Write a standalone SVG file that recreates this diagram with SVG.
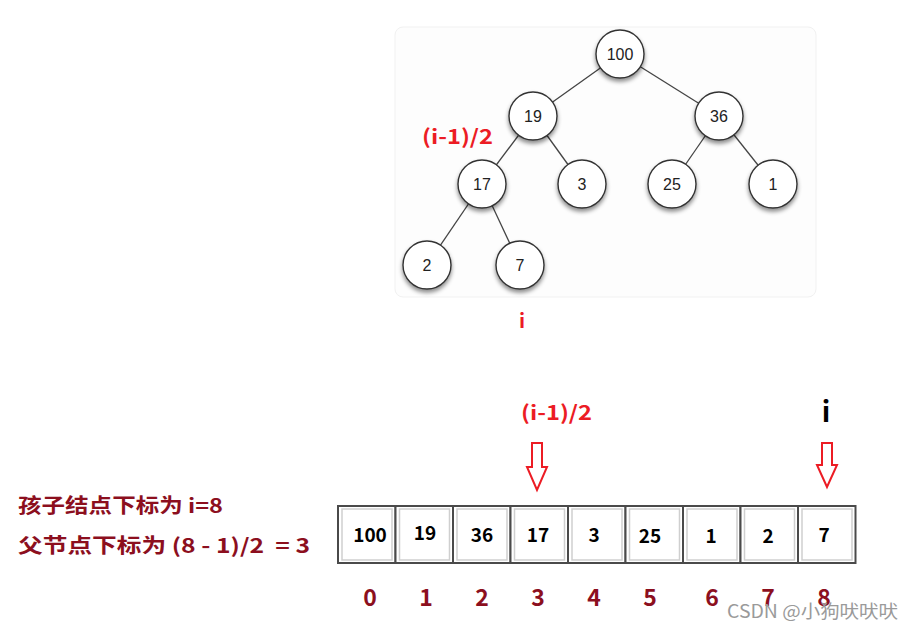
<svg xmlns="http://www.w3.org/2000/svg" width="914" height="629" viewBox="0 0 914 629">
<defs>
<filter id="sh" x="-40%" y="-40%" width="180%" height="190%">
<feDropShadow dx="0" dy="3" stdDeviation="2.2" flood-color="#000" flood-opacity="0.45"/>
</filter>
</defs>
<style>
.node circle{fill:#fff;stroke:#333;stroke-width:1.4;filter:url(#sh)}
.node text{font-family:"Liberation Sans",Arial,sans-serif;font-size:16px;fill:#222;text-anchor:middle}
.edge{stroke:#444;stroke-width:1.3}
.cell{fill:#fff;stroke:#4a4a4a;stroke-width:2}
.inset{fill:none;stroke:#cfcfcf;stroke-width:1.5}
.val{font-family:"Noto Sans CJK SC","Noto Sans",sans-serif;font-weight:bold;font-size:19px;fill:#000;text-anchor:middle}
.idx{font-family:"Noto Sans CJK SC","Noto Sans",sans-serif;font-weight:bold;font-size:23px;fill:#8c0f1e;text-anchor:middle}
.red{font-family:"Noto Sans CJK SC","Noto Sans",sans-serif;font-weight:bold;font-size:20px;fill:#ec1c24}
.note{font-family:"Noto Sans CJK SC","Noto Sans",sans-serif;font-weight:bold;font-size:20px;fill:#8c0f1e;white-space:pre}
.arrow{fill:#fff;stroke:#ec1c24;stroke-width:2;stroke-linejoin:miter}
</style>
<rect x="395" y="27" width="421" height="270" rx="8" fill="#fdfdfd" stroke="#f1f1f1"/>
<g id="connectors">
<line class="edge" x1="620" y1="54" x2="533" y2="116"/>
<line class="edge" x1="620" y1="54" x2="719" y2="116"/>
<line class="edge" x1="533" y1="116" x2="482" y2="184"/>
<line class="edge" x1="533" y1="116" x2="582" y2="184"/>
<line class="edge" x1="719" y1="116" x2="672" y2="184"/>
<line class="edge" x1="719" y1="116" x2="773" y2="184"/>
<line class="edge" x1="482" y1="184" x2="427" y2="265"/>
<line class="edge" x1="482" y1="184" x2="520" y2="265"/>
</g>
<g id="n100" class="node"><circle cx="620" cy="54" r="24"/><text x="620" y="60">100</text></g>
<g id="n19" class="node"><circle cx="533" cy="116" r="24"/><text x="533" y="122">19</text></g>
<g id="n36" class="node"><circle cx="719" cy="116" r="24"/><text x="719" y="122">36</text></g>
<g id="n17" class="node"><circle cx="482" cy="184" r="24"/><text x="482" y="190">17</text></g>
<g id="n3" class="node"><circle cx="582" cy="184" r="24"/><text x="582" y="190">3</text></g>
<g id="n25" class="node"><circle cx="672" cy="184" r="24"/><text x="672" y="190">25</text></g>
<g id="n1" class="node"><circle cx="773" cy="184" r="24"/><text x="773" y="190">1</text></g>
<g id="n2" class="node"><circle cx="427" cy="265" r="24"/><text x="427" y="271">2</text></g>
<g id="n7" class="node"><circle cx="520" cy="265" r="24"/><text x="520" y="271">7</text></g>
<text class="red" x="422" y="144" textLength="71" lengthAdjust="spacingAndGlyphs">(i-1)/2</text>
<text class="red" x="522" y="328" text-anchor="middle">i</text>
<text class="red" x="521" y="420" textLength="71" lengthAdjust="spacingAndGlyphs">(i-1)/2</text>
<text x="826" y="422" text-anchor="middle" font-family="Noto Sans CJK SC,Noto Sans,sans-serif" font-weight="bold" font-size="28" fill="#000">i</text>
<g id="arrow-parent"><polygon class="arrow" points="532,443 542,443 542,467 547,467 537,490 527,467 532,467"/></g>
<g id="arrow-child"><polygon class="arrow" points="822,443 832,443 832,465 837,465 827,487 817,465 822,465"/></g>
<g id="array">
<rect class="cell" x="338" y="506" width="57.5" height="57"/><rect class="inset" x="342" y="509" width="50" height="51"/>
<rect class="cell" x="395.5" y="506" width="57.5" height="57"/><rect class="inset" x="399.5" y="509" width="50" height="51"/>
<rect class="cell" x="453" y="506" width="57.5" height="57"/><rect class="inset" x="457" y="509" width="50" height="51"/>
<rect class="cell" x="510.5" y="506" width="57.5" height="57"/><rect class="inset" x="514.5" y="509" width="50" height="51"/>
<rect class="cell" x="568" y="506" width="57.5" height="57"/><rect class="inset" x="572" y="509" width="50" height="51"/>
<rect class="cell" x="625.5" y="506" width="57.5" height="57"/><rect class="inset" x="629.5" y="509" width="50" height="51"/>
<rect class="cell" x="683" y="506" width="57.5" height="57"/><rect class="inset" x="687" y="509" width="50" height="51"/>
<rect class="cell" x="740.5" y="506" width="57.5" height="57"/><rect class="inset" x="744.5" y="509" width="50" height="51"/>
<rect class="cell" x="798" y="506" width="57.5" height="57"/><rect class="inset" x="802" y="509" width="50" height="51"/>
<text class="val" x="370" y="542">100</text>
<text class="val" x="425" y="540">19</text>
<text class="val" x="482" y="542">36</text>
<text class="val" x="538" y="542">17</text>
<text class="val" x="594" y="542">3</text>
<text class="val" x="650" y="543">25</text>
<text class="val" x="711" y="543">1</text>
<text class="val" x="768" y="543">2</text>
<text class="val" x="824" y="542">7</text>
</g>
<g id="indices">
<text class="idx" x="370" y="606">0</text>
<text class="idx" x="426" y="606">1</text>
<text class="idx" x="482" y="606">2</text>
<text class="idx" x="538" y="606">3</text>
<text class="idx" x="594" y="606">4</text>
<text class="idx" x="650" y="606">5</text>
<text class="idx" x="712" y="606">6</text>
<text class="idx" x="768" y="606">7</text>
<text class="idx" x="824" y="606">8</text>
</g>
<text class="note" x="18" y="513" textLength="205" lengthAdjust="spacingAndGlyphs">孩子结点下标为 i=8</text>
<text class="note" x="18" y="553" textLength="292" lengthAdjust="spacingAndGlyphs" xml:space="preserve">父节点下标为 (8 - 1)/2  = 3</text>
<text x="727" y="618" font-family="Noto Sans CJK SC,Noto Sans,sans-serif" font-size="18" fill="#9a9a9a" textLength="171" lengthAdjust="spacingAndGlyphs">CSDN @小狗吠吠吠</text>
</svg>
